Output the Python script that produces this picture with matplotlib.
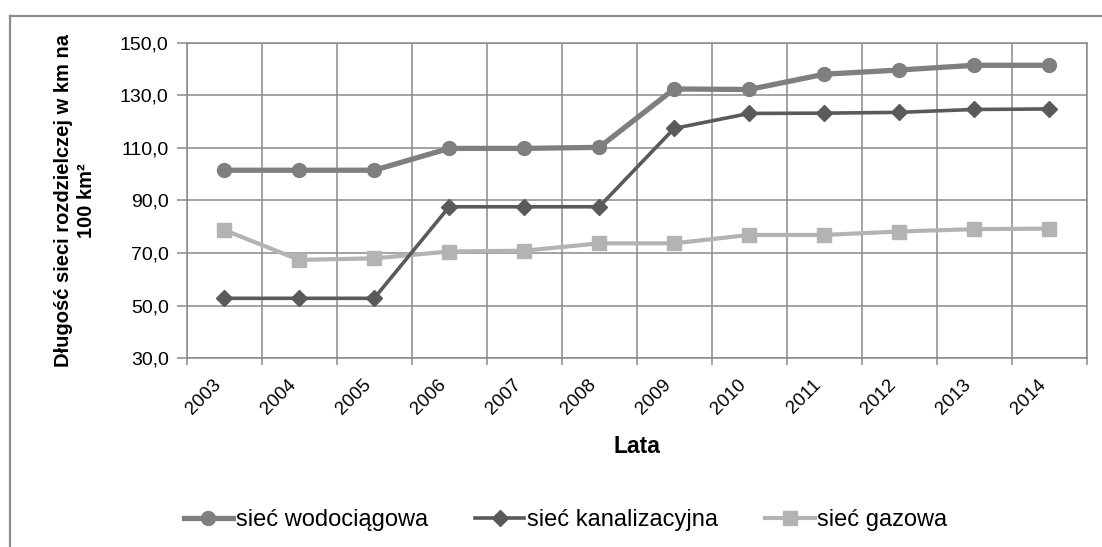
import numpy as np
import matplotlib.pyplot as plt
from matplotlib.lines import Line2D
from matplotlib.ticker import FixedLocator

plt.rcParams['font.family'] = ['Liberation Sans', 'DejaVu Sans']

years = ['2003', '2004', '2005', '2006', '2007', '2008',
         '2009', '2010', '2011', '2012', '2013', '2014']
wodociagowa = [101.5, 101.5, 101.5, 109.8, 109.8, 110.2,
               132.4, 132.2, 138.0, 139.6, 141.4, 141.4]
kanalizacyjna = [52.8, 52.8, 52.8, 87.6, 87.6, 87.6,
                 117.4, 123.1, 123.2, 123.5, 124.6, 124.8]
gazowa = [78.8, 67.4, 68.0, 70.6, 70.9, 73.7,
          73.7, 76.9, 76.9, 78.2, 79.1, 79.3]

fig = plt.figure(figsize=(11.02, 5.47), dpi=100)
ax = fig.add_axes([0.1694, 0.345, 0.8167, 0.577])

x = np.arange(len(years))
ax.plot(x, wodociagowa, color='#7f7f7f', lw=3.8, marker='o', ms=10,
        label='sieć wodociągowa', zorder=3)
ax.plot(x, kanalizacyjna, color='#5a5a5a', lw=2.6, marker='D', ms=8,
        label='sieć kanalizacyjna', zorder=4)
ax.plot(x, gazowa, color='#b3b3b3', lw=3.0, marker='s', ms=10,
        label='sieć gazowa', zorder=2)

ax.set_xlim(-0.5, len(years) - 0.5)
ax.set_ylim(30, 150)
ax.set_yticks(np.arange(30, 151, 20))
ax.set_yticklabels([f'{v:.1f}'.replace('.', ',') for v in np.arange(30, 151, 20)])
ax.set_xticks(x)
ax.set_xticklabels(years, rotation=45, ha='right', rotation_mode='default')
ax.xaxis.set_minor_locator(FixedLocator(np.arange(-0.5, len(years), 1)))

grid_c = '#8a8a8a'
ax.grid(True, which='major', axis='y', color=grid_c, lw=1.1)
ax.grid(True, which='minor', axis='x', color=grid_c, lw=1.1)
ax.set_axisbelow(True)
for s in ax.spines.values():
    s.set_color(grid_c)
    s.set_linewidth(1.1)

ax.tick_params(axis='x', which='major', length=0, pad=13, labelsize=13.5)
ax.tick_params(axis='x', which='minor', length=5, color=grid_c, width=1.1)
ax.tick_params(axis='y', length=7, color=grid_c, width=1.1, pad=6, labelsize=14)

fig.text(0.068, 0.633, 'Długość sieci rozdzielczej w km na\n100 km²',
         rotation=90, ha='center', va='center', multialignment='center',
         fontsize=14.5, fontweight='bold', linespacing=1.25)
fig.text(0.578, 0.183, 'Lata', ha='center', va='center',
         fontsize=16.5, fontweight='bold')

fig.legend(loc='center', bbox_to_anchor=(0.513, 0.049), ncol=3, frameon=False,
           fontsize=17, handlelength=2.1, handletextpad=0.1, columnspacing=2.0)

border = '#8c8c8c'
fig.add_artist(Line2D([0.0091, 1.0], [0.9707, 0.9707], color=border, lw=1.6,
                      transform=fig.transFigure))
fig.add_artist(Line2D([0.0091, 0.0091], [0.0, 0.9707], color=border, lw=1.6,
                      transform=fig.transFigure))

fig.savefig('out.png', dpi=100)
